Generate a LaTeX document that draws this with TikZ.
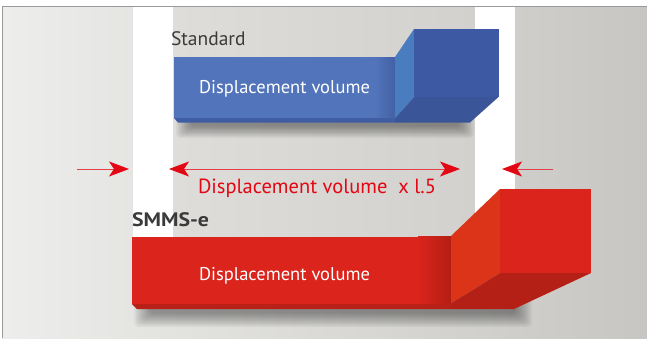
\documentclass[tikz,border=0pt]{standalone}
\usepackage{fontspec}
\setmainfont{PT Sans}
\usetikzlibrary{arrows.meta}
\definecolor{bgL}{HTML}{EDEDEB}
\definecolor{bgR}{HTML}{C7C6C2}
\definecolor{midL}{HTML}{DEDDDA}
\definecolor{midR}{HTML}{D2D1CD}
\definecolor{frameC}{HTML}{9A9A9A}
\definecolor{bFront}{HTML}{5274BA}
\definecolor{bFrontD}{HTML}{4360A5}
\definecolor{bSide}{HTML}{4A7DC0}
\definecolor{bBox}{HTML}{3D59A4}
\definecolor{bBottom}{HTML}{3B5599}
\definecolor{bStrip}{HTML}{3F5DA3}
\definecolor{rFront}{HTML}{DA241C}
\definecolor{rFrontD}{HTML}{B41E14}
\definecolor{rSide}{HTML}{DC3419}
\definecolor{rBox}{HTML}{DA241C}
\definecolor{rBottom}{HTML}{B42016}
\definecolor{rStrip}{HTML}{B82117}
\definecolor{arrowred}{HTML}{E30613}
\definecolor{lineRed}{HTML}{E4404A}
\definecolor{labelgray}{HTML}{3A3A3A}
\tikzset{
  lbl/.style={anchor=base west, inner sep=0pt, outer sep=0pt},
  inlbl/.style={lbl, text=white, font=\fontsize{18.5}{20}\selectfont},
  dimline/.style={draw=lineRed, line width=0.9pt},
  shadowlayer/.style={fill=black, opacity=0.045, rounded corners=4pt},
}
\begin{document}
\begin{tikzpicture}[x=1pt,y=-1pt]
\useasboundingbox (0,0) rectangle (647,338);
% background
\fill[white] (0,0) rectangle (647,338);
\shade[left color=bgL, right color=bgR] (2,7) rectangle (647,338);
\shade[left color=midL, right color=midR] (173,7) rectangle (475,237);
\fill[white] (133,7) rectangle (173,237);
\fill[white] (475,7) rectangle (515,237);
\draw[frameC, line width=1.5pt] (2.5,338) -- (2.5,6.5) -- (647,6.5);
% soft shadows
\foreach \i in {0,...,9} {
  \fill[shadowlayer] (176+1.6*\i,112) rectangle (474-1.6*\i,138-1.3*\i);
  \fill[shadowlayer] (134+1.8*\i,296) rectangle (532-1.8*\i,327-1.5*\i);
}
% blue block
\fill[bFront] (174,57) rectangle (395,118);
\shade[left color=bFront, right color=bFrontD] (375,57) rectangle (395,118);
\fill[bStrip] (174,118) -- (395,118) -- (395,122.5) -- (178,122.5) -- cycle;
\fill[bSide] (395,57) -- (414,29) -- (414,97) -- (395,118.5) -- cycle;
\fill[bBox] (414,29) rectangle (498.5,97);
\fill[bBottom] (395,118.5) -- (414,97) -- (498.5,97) -- (470,122.5) -- (395,122.5) -- cycle;
% red block
\fill[rFront] (132,237) rectangle (451,304);
\shade[left color=rFront, right color=rFrontD] (418,236) rectangle (451,304);
\fill[rStrip] (132,304) -- (451,304) -- (451,309) -- (137,309) -- cycle;
\fill[rSide] (451,236) -- (500,189) -- (500,273) -- (451,303.5) -- cycle;
\fill[rBox] (500,189) rectangle (591,273);
\fill[rBottom] (451,303.5) -- (500,273) -- (591,273) -- (514,309) -- (451,309) -- cycle;
% labels
\node[lbl, text=labelgray, font=\fontsize{19.5}{21}\selectfont] (std) at (171,45) {Standard};
\node[inlbl] (bvol) at (199,93) {Displacement volume};
\node[lbl, text=labelgray, font=\bfseries\fontsize{19.5}{21}\selectfont] (smms) at (132,226) {\scalebox{1.12}[1]{SMMS-e}};
\node[inlbl] (rvol) at (199,280) {Displacement volume};
\node[lbl, text=arrowred, font=\fontsize{20.5}{22}\selectfont] (dimtxt) at (198,193) {Displacement volume\ \ x l.5};
% dimension arrows
\coordinate (la) at (77,169);
\coordinate (lb) at (129,169);
\coordinate (ma) at (169,169);
\coordinate (mb) at (460,169);
\coordinate (ra) at (553,169);
\coordinate (rb) at (502,169);
\draw[dimline, -{Stealth[length=20pt, width=15pt, inset=5pt, color=arrowred]}] (la) -- (lb);
\draw[dimline, {Stealth[length=20pt, width=15pt, inset=5pt, color=arrowred]}-{Stealth[length=20pt, width=15pt, inset=5pt, color=arrowred]}] (ma) -- (mb);
\draw[dimline, -{Stealth[length=20pt, width=15pt, inset=5pt, color=arrowred]}] (ra) -- (rb);
\end{tikzpicture}
\end{document}
